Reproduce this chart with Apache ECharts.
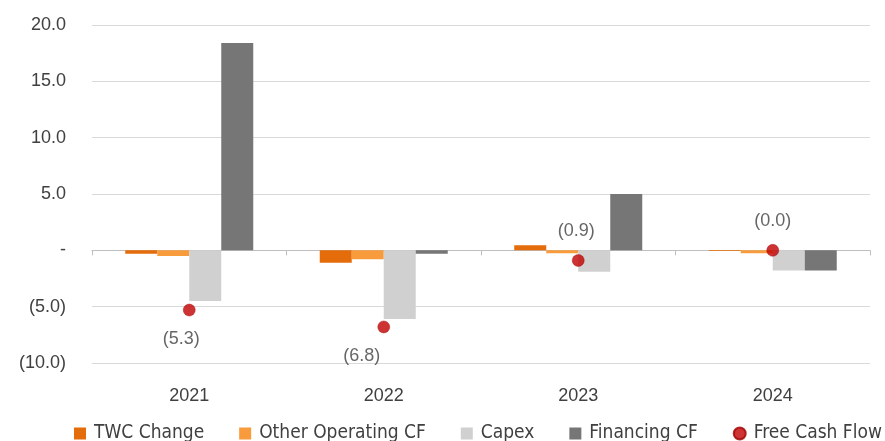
<!DOCTYPE html>
<html>
<head>
<meta charset="utf-8">
<script src="https://cdn.jsdelivr.net/npm/echarts@6/dist/echarts.min.js"></script>
<style>
  html, body { margin: 0; padding: 0; background: #fff; }
  #chart { width: 885px; height: 441px; }
</style>
</head>
<body>
<div id="chart"></div>
<script>
// Cash flow components by year
const years = ['2021', '2022', '2023', '2024'];
const twcChange = [-0.3, -1.1, 0.45, -0.05];
const otherOperatingCF = [-0.5, -0.8, -0.25, -0.25];
const capex = [-4.5, -6.1, -1.9, -1.8];
const financingCF = [18.4, -0.3, 5.0, -1.8];
const freeCashFlow = [-5.3, -6.8, -0.9, 0.0];
const yTicks = { min: -10, max: 20, interval: 5 };

// label placement for the free cash flow markers
const fcfLabelPos = ['bottom', 'bottom', 'top', 'top'];
const fcfLabelShift = [[-8, 0], [-22, 0], [-2, 0], [0, 0]];

const axisFont = 'Liberation Sans, Arial, sans-serif';
const legendFont = '"Liberation Sans Narrow", "DejaVu Sans Condensed", "Roboto", sans-serif';

function fmtNum(v) {
  if (Math.abs(v) < 1e-9) return '-';
  const s = Math.abs(v).toFixed(1);
  return v < 0 ? '(' + s + ')' : s;
}

function fmtLabel(v) {
  const s = Math.abs(v).toFixed(1);
  return v <= 0 ? '(' + s + ')' : s;
}

const chart = echarts.init(document.getElementById('chart'));

const barCommon = {
  type: 'bar',
  xAxisIndex: 0,
  barWidth: 32,
  barGap: '0%'
};

chart.setOption({
  animation: false,
  grid: { left: 92, right: 15, top: 25, bottom: 78 },
  legend: {
    top: 424,
    left: 74,
    width: 900,
    padding: 0,
    itemWidth: 12,
    itemHeight: 12,
    itemGap: 35,
    textStyle: {
      fontFamily: legendFont,
      fontSize: 19,
      color: '#404040',
      padding: [0, 0, 0, 3]
    },
    data: [
      { name: 'TWC Change', icon: 'rect' },
      { name: 'Other Operating CF', icon: 'rect' },
      { name: 'Capex', icon: 'rect' },
      { name: 'Financing CF', icon: 'rect' },
      { name: 'Free Cash Flow', icon: 'circle' }
    ]
  },
  xAxis: [
    {
      type: 'category',
      data: years,
      position: 'bottom',
      axisLine: { onZero: true, lineStyle: { color: '#BFBFBF', width: 1 } },
      axisTick: { show: true, length: 5, lineStyle: { color: '#BFBFBF' } },
      axisLabel: { show: false }
    },
    {
      type: 'category',
      data: years,
      position: 'bottom',
      axisLine: { show: false, onZero: false },
      axisTick: { show: false },
      axisLabel: { margin: 24, fontFamily: axisFont, fontSize: 18, color: '#404040' }
    }
  ],
  yAxis: {
    type: 'value',
    min: yTicks.min,
    max: yTicks.max,
    interval: yTicks.interval,
    axisLine: { show: false },
    axisTick: { show: false },
    splitLine: { lineStyle: { color: '#D9D9D9', width: 1 } },
    axisLabel: {
      margin: 26,
      fontFamily: axisFont,
      fontSize: 18,
      color: '#404040',
      formatter: fmtNum
    }
  },
  series: [
    Object.assign({ name: 'TWC Change', data: twcChange, itemStyle: { color: '#E46C0A' } }, barCommon),
    Object.assign({ name: 'Other Operating CF', data: otherOperatingCF, itemStyle: { color: '#F79B3C' } }, barCommon),
    Object.assign({ name: 'Capex', data: capex, itemStyle: { color: '#D0D0D0' } }, barCommon),
    Object.assign({ name: 'Financing CF', data: financingCF, itemStyle: { color: '#767676' } }, barCommon),
    {
      name: 'Free Cash Flow',
      type: 'scatter',
      xAxisIndex: 0,
      symbol: 'circle',
      symbolSize: 12,
      z: 5,
      itemStyle: { color: '#C00000', borderColor: '#A00000', borderWidth: 0.5 },
      data: freeCashFlow.map((v, i) => ({
        value: v,
        label: {
          show: true,
          position: fcfLabelPos[i],
          distance: 14,
          offset: fcfLabelShift[i],
          formatter: () => fmtLabel(v),
          fontFamily: axisFont,
          fontSize: 18,
          color: '#404040'
        }
      }))
    }
  ]
});
</script>
</body>
</html>
